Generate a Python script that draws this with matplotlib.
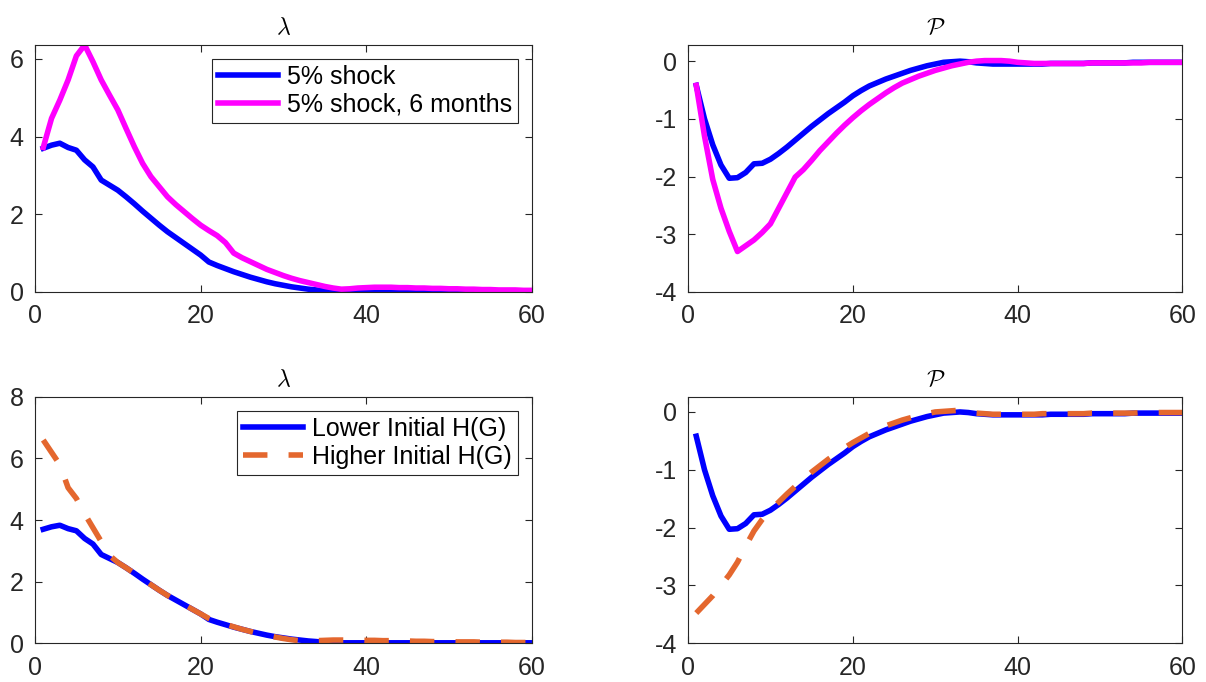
import numpy as np
import matplotlib
matplotlib.use("Agg")
import matplotlib.pyplot as plt

plt.rcParams['font.family'] = ['Liberation Sans', 'DejaVu Sans']
plt.rcParams['mathtext.fontset'] = 'cm'
plt.rcParams['axes.unicode_minus'] = False

# Dados ------------------------------------------------------------
meses = np.arange(1, 61)

# lambda, choque de 5%
lam_choque = [3.70, 3.78, 3.83, 3.72, 3.65, 3.40, 3.22, 2.88, 2.75, 2.62,
              2.45, 2.27, 2.08, 1.90, 1.72, 1.55, 1.40, 1.25, 1.10, 0.95,
              0.77, 0.68, 0.60, 0.52, 0.45, 0.38, 0.32, 0.26, 0.21, 0.17,
              0.13, 0.10, 0.07, 0.05, 0.02, 0.01, 0.01, 0.01, 0.01, 0.01,
              0.01, 0.01, 0.01, 0.01, 0.01, 0.01, 0.01, 0.01, 0.01, 0.01,
              0.01, 0.01, 0.01, 0.01, 0.01, 0.01, 0.01, 0.01, 0.01, 0.01]

# lambda, choque de 5% por 6 meses
lam_6meses = [3.72, 4.47, 4.94, 5.46, 6.08, 6.36, 5.93, 5.46, 5.07, 4.69,
              4.21, 3.74, 3.31, 2.97, 2.71, 2.45, 2.25, 2.07, 1.89, 1.72,
              1.58, 1.45, 1.27, 1.00, 0.88, 0.78, 0.68, 0.58, 0.50, 0.42,
              0.35, 0.29, 0.24, 0.19, 0.14, 0.10, 0.07, 0.08, 0.10, 0.11,
              0.12, 0.12, 0.12, 0.11, 0.11, 0.10, 0.10, 0.09, 0.09, 0.08,
              0.08, 0.07, 0.07, 0.06, 0.06, 0.05, 0.05, 0.05, 0.04, 0.04]

# lambda, H(G) inicial maior
lam_hg_alto = [6.60, 6.20, 5.80, 5.05, 4.70, 4.20, 3.75, 3.30, 2.85, 2.62,
               2.45, 2.27, 2.08, 1.90, 1.72, 1.55, 1.40, 1.25, 1.10, 0.95,
               0.80, 0.70, 0.61, 0.53, 0.45, 0.38, 0.31, 0.25, 0.20, 0.15,
               0.11, 0.08, 0.07, 0.08, 0.09, 0.10, 0.10, 0.10, 0.10, 0.09,
               0.09, 0.08, 0.08, 0.07, 0.07, 0.06, 0.06, 0.05, 0.05, 0.05,
               0.04, 0.04, 0.04, 0.03, 0.03, 0.03, 0.03, 0.02, 0.02, 0.02]

# P, choque de 5%
p_choque = [-0.42, -1.00, -1.45, -1.80, -2.03, -2.02, -1.93, -1.78, -1.77, -1.70,
            -1.60, -1.49, -1.37, -1.25, -1.13, -1.02, -0.91, -0.81, -0.71, -0.60,
            -0.51, -0.43, -0.37, -0.31, -0.26, -0.21, -0.16, -0.12, -0.08, -0.05,
            -0.02, -0.01, 0.00, -0.01, -0.03, -0.04, -0.05, -0.05, -0.05, -0.05,
            -0.05, -0.05, -0.05, -0.04, -0.04, -0.04, -0.04, -0.04, -0.03, -0.03,
            -0.03, -0.03, -0.03, -0.02, -0.02, -0.02, -0.02, -0.02, -0.02, -0.02]

# P, choque de 5% por 6 meses
p_6meses = [-0.42, -1.30, -2.05, -2.55, -2.95, -3.30, -3.20, -3.10, -2.97, -2.82,
            -2.55, -2.28, -2.01, -1.88, -1.72, -1.55, -1.40, -1.25, -1.11, -0.98,
            -0.86, -0.75, -0.65, -0.55, -0.46, -0.38, -0.32, -0.26, -0.21, -0.16,
            -0.12, -0.08, -0.05, -0.02, 0.00, 0.01, 0.01, 0.01, 0.00, -0.02,
            -0.03, -0.04, -0.04, -0.04, -0.04, -0.04, -0.04, -0.04, -0.03, -0.03,
            -0.03, -0.03, -0.03, -0.03, -0.03, -0.02, -0.02, -0.02, -0.02, -0.02]

# P, H(G) inicial maior
p_hg_alto = [-3.48, -3.33, -3.18, -3.00, -2.82, -2.60, -2.32, -2.06, -1.86, -1.70,
             -1.56, -1.42, -1.29, -1.16, -1.04, -0.93, -0.82, -0.72, -0.62, -0.53,
             -0.45, -0.37, -0.30, -0.24, -0.19, -0.14, -0.10, -0.06, -0.03, 0.00,
             0.01, 0.02, 0.03, 0.00, -0.02, -0.03, -0.04, -0.04, -0.04, -0.04,
             -0.04, -0.04, -0.03, -0.03, -0.03, -0.03, -0.03, -0.03, -0.02, -0.02,
             -0.02, -0.02, -0.02, -0.02, -0.01, -0.01, -0.01, -0.01, -0.01, -0.01]

# Estilo ------------------------------------------------------------
azul = (0, 0, 1)
magenta = (1, 0, 1)
laranja = '#E4672E'
cinza = (0.15, 0.15, 0.15)
lw = 4
tracejado = (0, (4.4, 3.8))

fig = plt.figure(figsize=(12.06, 6.82), dpi=100)
ax1 = fig.add_axes([0.029, 0.572, 0.412, 0.362])
ax2 = fig.add_axes([0.5705, 0.572, 0.410, 0.362])
ax3 = fig.add_axes([0.029, 0.057, 0.412, 0.361])
ax4 = fig.add_axes([0.5705, 0.057, 0.410, 0.361])

# Painel superior esquerdo
ax1.plot(meses, lam_choque, color=azul, lw=lw, label='5% shock')
ax1.plot(meses, lam_6meses, color=magenta, lw=lw, label='5% shock, 6 months')
ax1.set_ylim(0, 6.36)
ax1.set_yticks([0, 2, 4, 6])
ax1.set_title(r'$\lambda$', fontsize=17, pad=8)

# Painel superior direito
ax2.plot(meses, p_choque, color=azul, lw=lw)
ax2.plot(meses, p_6meses, color=magenta, lw=lw)
ax2.set_ylim(-4, 0.28)
ax2.set_yticks([-4, -3, -2, -1, 0])
ax2.set_title(r'$\mathcal{P}$', fontsize=17, pad=8)

# Painel inferior esquerdo
ax3.plot(meses, lam_choque, color=azul, lw=lw, label='Lower Initial H(G)')
ax3.plot(meses, lam_hg_alto, color=laranja, lw=lw, linestyle=tracejado,
         label='Higher Initial H(G)')
ax3.set_ylim(0, 8)
ax3.set_yticks([0, 2, 4, 6, 8])
ax3.set_title(r'$\lambda$', fontsize=17, pad=8)

# Painel inferior direito
ax4.plot(meses, p_choque, color=azul, lw=lw)
ax4.plot(meses, p_hg_alto, color=laranja, lw=lw, linestyle=tracejado)
ax4.set_ylim(-4, 0.26)
ax4.set_yticks([-4, -3, -2, -1, 0])
ax4.set_title(r'$\mathcal{P}$', fontsize=17, pad=8)

for ax in [ax1, ax2, ax3, ax4]:
    ax.set_xlim(0, 60)
    ax.set_xticks([0, 20, 40, 60])
    ax.tick_params(direction='in', length=5, width=0.8, colors=cinza,
                   labelsize=18, top=True, right=True)
    ax.tick_params(axis='x', pad=9)
    ax.tick_params(axis='y', pad=8)
    for s in ax.spines.values():
        s.set_color(cinza)
        s.set_linewidth(0.8)

for ax in [ax1, ax3]:
    leg = ax.legend(loc='upper right', fontsize=18, frameon=True, fancybox=False,
                    framealpha=1, edgecolor=cinza, handlelength=2.4,
                    borderaxespad=0.55, borderpad=0.25, labelspacing=0.15,
                    handletextpad=0.35)
    leg.get_frame().set_linewidth(0.8)

plt.savefig("out.png", dpi=100)
plt.close()
